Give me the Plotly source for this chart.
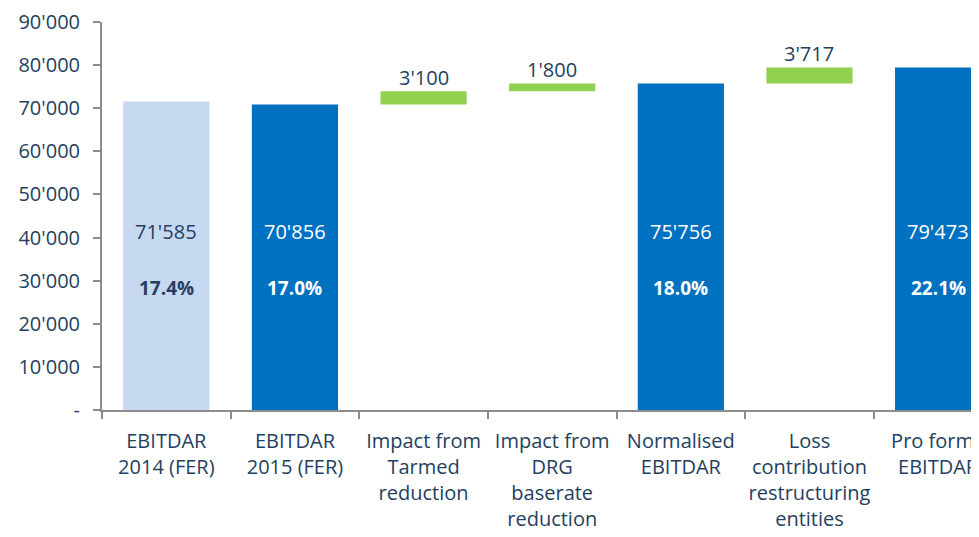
import plotly.graph_objects as go

categories = ["EBITDAR<br>2014 (FER)", "EBITDAR<br>2015 (FER)", "Impact from<br>Tarmed<br>reduction",
              "Impact from<br>DRG<br>baserate<br>reduction", "Normalised<br>EBITDAR",
              "Loss<br>contribution<br>restructuring<br>entities", "Pro forma<br>EBITDAR"]
values = [71585, 70856, 3100, 1800, 75756, 3717, 79473]
kinds = ["total", "total", "delta", "delta", "total", "delta", "total"]
margins = ["17.4%", "17.0%", None, None, "18.0%", None, "22.1%"]
value_labels = ["71'585", "70'856", "3'100", "1'800", "75'756", "3'717", "79'473"]
y_ticks = [0, 10000, 20000, 30000, 40000, 50000, 60000, 70000, 80000, 90000]
y_ticktext = ["-", "10'000", "20'000", "30'000", "40'000", "50'000", "60'000", "70'000", "80'000", "90'000"]

TXT = "#243F60"
LIGHT = "#C6D9F0"
DARK = "#0070C0"
GREEN = "#92D050"
FONT = "Open Sans"

# floating bases for the deltas
bases, colors = [], []
running = 0
for i, (v, k) in enumerate(zip(values, kinds)):
    if k == "total":
        bases.append(0)
        running = v
        colors.append(LIGHT if i == 0 else DARK)
    else:
        bases.append(running)
        running += v
        colors.append(GREEN)

fig = go.Figure(go.Bar(
    x=categories, y=values, base=bases,
    marker=dict(color=colors, line=dict(width=0)),
    width=0.67, hoverinfo="skip"
))

for i, cat in enumerate(categories):
    if kinds[i] == "total":
        col = TXT if i == 0 else "white"
        fig.add_annotation(x=cat, y=41500, text=value_labels[i], showarrow=False,
                           font=dict(size=20, color=col, family=FONT))
        fig.add_annotation(x=cat, y=28400, text="<b>" + margins[i] + "</b>", showarrow=False,
                           font=dict(size=19, color=col, family=FONT))
    else:
        fig.add_annotation(x=cat, y=bases[i] + values[i], text=value_labels[i], showarrow=False,
                           yanchor="bottom", yshift=-2,
                           font=dict(size=20, color=TXT, family=FONT))

fig.update_layout(
    width=979, height=537,
    margin=dict(l=94, r=0, t=12, b=135),
    plot_bgcolor="white", paper_bgcolor="white",
    showlegend=False,
    font=dict(family=FONT, color=TXT, size=20),
    xaxis=dict(range=[-0.5, 6.38], showline=True, linecolor="#8C8C8C", linewidth=2,
               ticks="outside", tickson="boundaries", ticklen=7, tickcolor="#8C8C8C",
               tickwidth=2, tickfont=dict(size=20, color=TXT), tickangle=0,
               showgrid=False, ticklabelstandoff=12, ticklabeloverflow="allow"),
    yaxis=dict(range=[0, 90000], tickvals=y_ticks, ticktext=y_ticktext,
               showline=True, linecolor="#8C8C8C", linewidth=2, ticks="outside",
               ticklen=7, tickcolor="#8C8C8C", tickwidth=2, showgrid=False,
               zeroline=False, tickfont=dict(size=20, color=TXT), ticklabelstandoff=9,
               ticklabeloverflow="allow"),
)

fig.write_html("out.html")
